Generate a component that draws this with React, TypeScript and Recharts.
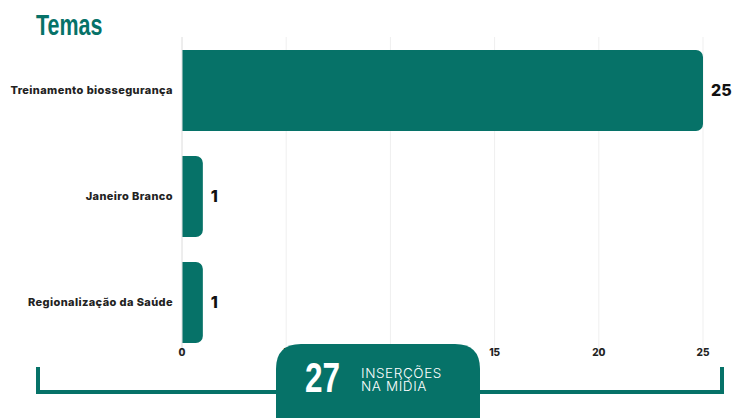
import { BarChart, Bar, XAxis, YAxis, CartesianGrid, LabelList, Cell } from 'recharts';

const temas = ['Treinamento biossegurança', 'Janeiro Branco', 'Regionalização da Saúde'];
const insercoes = [25, 1, 1];
const xTicks = [0, 5, 10, 15, 20, 25];
const totalInsercoes = 27;

const TEAL = '#067268';
const NARROW = '"Liberation Sans", Arial, sans-serif';

const data = temas.map((tema, i) => ({ tema, valor: insercoes[i] }));

const XTick = ({ x, y, payload }: any) => (
  <text x={x} y={y} dy={-7} textAnchor="middle" fill="#222" fontSize={10} fontWeight={800} fontFamily="Inter, sans-serif">
    {payload.value}
  </text>
);

const YTick = ({ x, y, payload }: any) => (
  <text
    x={x}
    y={y}
    dy={4}
    textAnchor="end"
    fill="#222"
    fontSize={11}
    fontWeight={800}
    letterSpacing={0.4}
    fontFamily="Inter, sans-serif"
  >
    {payload.value}
  </text>
);

export default function App() {
  return (
    <div style={{ position: 'absolute', left: 0, top: 0, width: 732, height: 418, background: '#fff', overflow: 'hidden' }}>
      <BarChart
        width={732}
        height={418}
        data={data}
        layout="vertical"
        margin={{ top: 37, right: 29, left: 0, bottom: 43 }}
        barSize={81}
      >
        <CartesianGrid horizontal={false} stroke="#efefef" />
        <XAxis
          type="number"
          domain={[0, 25]}
          ticks={xTicks}
          axisLine={false}
          tickLine={false}
          height={20}
          tick={<XTick />}
        />
        <YAxis
          type="category"
          dataKey="tema"
          width={182}
          axisLine={{ stroke: '#e4e4e4' }}
          tickLine={false}
          tickSize={0}
          tickMargin={9}
          tick={<YTick />}
        />
        <Bar dataKey="valor" fill={TEAL} radius={[0, 7, 7, 0]} isAnimationActive={false}>
          {data.map((d, i) => (
            <Cell key={`cell-${i}`} fill={TEAL} />
          ))}
          <LabelList
            dataKey="valor"
            position="right"
            offset={8}
            fill="#111"
            fontSize={16}
            fontWeight={800}
            fontFamily="Inter, sans-serif"
          />
        </Bar>
      </BarChart>
      <svg width={732} height={418} style={{ position: 'absolute', left: 0, top: 0 }}>
        <text
          transform="translate(36 35) scale(0.74 1)"
          fill={TEAL}
          fontSize={29}
          fontWeight={700}
          fontFamily={NARROW}
        >
          Temas
        </text>
        <path d="M38 367 V392 H722 V367" fill="none" stroke={TEAL} strokeWidth={4} />
        <path d="M276 418 V369 Q276 344 301 344 H455 Q480 344 480 369 V418 Z" fill={TEAL} />
        <text
          transform="translate(305 392) scale(0.75 1)"
          fill="#fff"
          fontSize={42}
          fontWeight={700}
          fontFamily={NARROW}
        >
          {totalInsercoes}
        </text>
        <text x={361} y={378} fill="#fff" fontSize={13.5} fontWeight={300} letterSpacing={0.6} fontFamily="Inter, sans-serif">
          INSERÇÕES
        </text>
        <text x={361} y={391} fill="#fff" fontSize={13.5} fontWeight={300} letterSpacing={0.6} fontFamily="Inter, sans-serif">
          NA MÍDIA
        </text>
      </svg>
    </div>
  );
}
